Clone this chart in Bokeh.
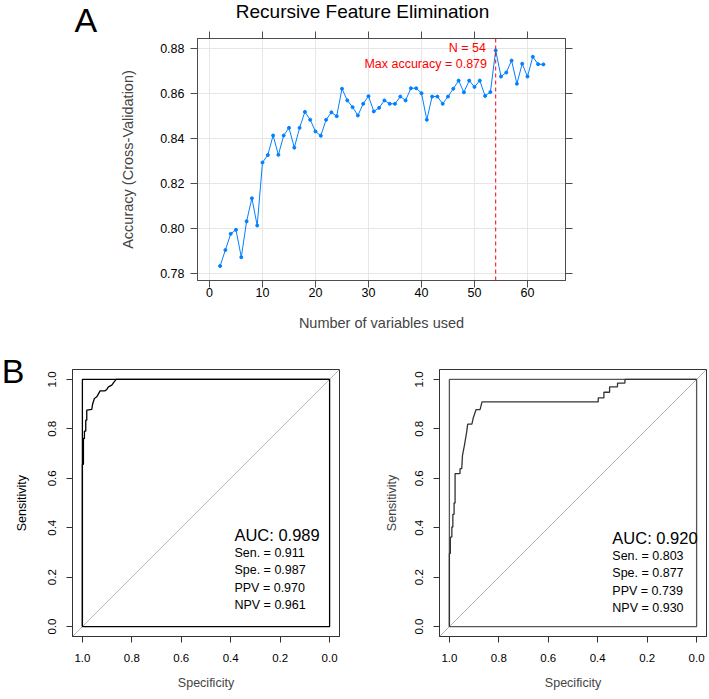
import numpy as np
from bokeh.plotting import figure
from bokeh.models import Range1d, FixedTicker, LinearAxis, Label, Span, NumeralTickFormatter
from bokeh.layouts import column, row
from bokeh.embed import file_html
from bokeh.resources import INLINE

FONT = "Liberation Sans"

# ---------------- data: panel A (RFE) ----------------
n_vars = list(range(2, 64))
accuracy = [
    0.7832, 0.7903, 0.7975, 0.7993, 0.7871, 0.8031, 0.8133, 0.8012, 0.8292, 0.8325,
    0.8412, 0.8326, 0.8412, 0.8446, 0.8358, 0.8446, 0.8517, 0.8482, 0.8430, 0.8411,
    0.8482, 0.8515, 0.8498, 0.8620, 0.8568, 0.8538, 0.8501, 0.8553, 0.8587, 0.8519,
    0.8535, 0.8568, 0.8553, 0.8553, 0.8585, 0.8568, 0.8622, 0.8622, 0.8600, 0.8482,
    0.8585, 0.8585, 0.8553, 0.8585, 0.8620, 0.8656, 0.8604, 0.8656, 0.8628, 0.8656,
    0.8588, 0.8605, 0.8790, 0.8674, 0.8692, 0.8745, 0.8642, 0.8731, 0.8674, 0.8762,
    0.8729, 0.8728,
]
a_x_ticks = [0, 10, 20, 30, 40, 50, 60]
a_y_ticks = [0.78, 0.80, 0.82, 0.84, 0.86, 0.88]

# ---------------- data: panel B (ROC) ----------------
roc1_spec = [1.0, 1.0, 0.9958, 0.9958, 0.9918, 0.9918, 0.9864, 0.9864, 0.9823, 0.9823,
             0.9621, 0.9580, 0.9513, 0.9418, 0.9283, 0.9081, 0.9013, 0.8946, 0.8811,
             0.8744, 0.8636, 0.0]
roc1_sens = [0.0, 0.6567, 0.6567, 0.7608, 0.7608, 0.7904, 0.7904, 0.8350, 0.8350, 0.8756,
             0.8783, 0.9026, 0.9229, 0.9295, 0.9538, 0.9538, 0.9594, 0.9700, 0.9769,
             0.9862, 1.0, 1.0]
roc2_spec = [1.0, 1.0, 0.996, 0.996, 0.990, 0.990, 0.986, 0.986, 0.981, 0.981, 0.977,
             0.977, 0.957, 0.957, 0.950, 0.947, 0.939, 0.930, 0.926, 0.909, 0.903, 0.892,
             0.876, 0.868, 0.398, 0.398, 0.375, 0.375, 0.352, 0.352, 0.320, 0.320, 0.290,
             0.290, 0.0]
roc2_sens = [0.0, 0.296, 0.296, 0.362, 0.362, 0.403, 0.403, 0.454, 0.454, 0.500, 0.500,
             0.619, 0.619, 0.639, 0.639, 0.693, 0.734, 0.788, 0.819, 0.819, 0.846, 0.878,
             0.878, 0.909, 0.909, 0.925, 0.925, 0.948, 0.948, 0.970, 0.970, 0.985, 0.985,
             1.0, 1.0]
auc_vals = [0.989, 0.920]
sen_vals = [0.911, 0.803]
spe_vals = [0.987, 0.877]
ppv_vals = [0.970, 0.739]
npv_vals = [0.961, 0.930]
roc_ticks = [0.0, 0.2, 0.4, 0.6, 0.8, 1.0]

# ---------------- layout constants (page pixels) ----------------
PAGE_W, PAGE_H = 709, 699
HT = 345            # height of the top block (panel A)
HB = PAGE_H - HT    # height of the bottom block (panel B)
AXC = "#4d4d4d"


def blank(width, height, x0, y0):
    """Figure without axes holding free text; data coords = page x, -page y."""
    f = figure(width=width, height=height, output_backend="svg", toolbar_location=None,
               title=None, x_axis_type=None, y_axis_type=None,
               x_range=Range1d(x0, x0 + width), y_range=Range1d(-(y0 + height), -y0),
               min_border=0, min_border_left=0, min_border_right=0,
               min_border_top=0, min_border_bottom=0)
    f.outline_line_color = None
    return f


def page_label(f, x, y, text, size, **kw):
    f.add_layout(Label(x=x, y=-y, text=text, text_font=FONT, text_font_size=size,
                       text_color="black", text_baseline="middle", **kw))


# ---------------- panel A ----------------
WA = 110
figA = blank(WA, HT, 0, 0)
page_label(figA, 85.3, 19.2, "A", "34px", text_align="center")

W1 = PAGE_W - WA
HTT = 22
figT = blank(W1, HTT, WA, 0)
page_label(figT, 362, 11, "Recursive Feature Elimination", "19px", text_align="center")

H1 = HT - HTT
FL, FR, FT, FB = 87, 455, 16, 258
p1 = figure(width=W1, height=H1, output_backend="svg", toolbar_location=None, title=None,
            x_range=Range1d(-2.264, 67.17), y_range=Range1d(0.776756, 0.884311),
            min_border_left=FL, min_border_right=W1 - FR, min_border_top=FT,
            min_border_bottom=H1 - FB)
p1.outline_line_color = AXC
bottom_ax = p1.below[0]
left_ax = p1.left[0]
top_ax = LinearAxis(major_label_text_color=None, major_label_text_font_size="0px",
                    major_label_standoff=0)
right_ax = LinearAxis(major_label_text_color=None, major_label_text_font_size="0px",
                      major_label_standoff=0)
p1.add_layout(top_ax, "above")
p1.add_layout(right_ax, "right")
for ax in [bottom_ax, top_ax]:
    ax.ticker = FixedTicker(ticks=a_x_ticks)
for ax in [left_ax, right_ax]:
    ax.ticker = FixedTicker(ticks=a_y_ticks)
for ax in [bottom_ax, top_ax, left_ax, right_ax]:
    ax.axis_line_color = AXC
    ax.major_tick_line_color = AXC
    ax.minor_tick_line_color = None
    ax.major_tick_out = 7
    ax.major_tick_in = 0
    ax.axis_label_text_font = FONT
    ax.axis_label_text_font_size = "14.5px"
    ax.axis_label_text_font_style = "normal"
for ax in [bottom_ax, left_ax]:
    ax.major_label_text_font = FONT
    ax.major_label_text_font_size = "12.5px"
    ax.major_label_text_color = "black"
left_ax.formatter = NumeralTickFormatter(format="0.00")
left_ax.major_label_standoff = 6
left_ax.axis_label = "Accuracy (Cross-Validation)"
left_ax.axis_label_standoff = 21
bottom_ax.major_label_standoff = 0
bottom_ax.axis_label = "Number of variables used"
bottom_ax.axis_label_standoff = 15
p1.xgrid.ticker = FixedTicker(ticks=a_x_ticks)
p1.ygrid.ticker = FixedTicker(ticks=a_y_ticks)
p1.xgrid.grid_line_color = "#e6e6e6"
p1.ygrid.grid_line_color = "#e6e6e6"

p1.line(n_vars, accuracy, line_color="#0080ff", line_width=1)
p1.scatter(n_vars, accuracy, size=3, color="#0080ff")

best_i = int(np.argmax(accuracy))
best_n = n_vars[best_i]
best_acc = accuracy[best_i]
p1.add_layout(Span(location=best_n, dimension="height", line_color="#ff0000",
                   line_dash="4 3", line_width=1))
p1.add_layout(Label(x=52.17, y=0.8799, text=f"N = {best_n}", text_color="#ff0000",
                    text_align="right", text_baseline="middle", text_font=FONT,
                    text_font_size="12.5px"))
p1.add_layout(Label(x=52.36, y=0.87276, text=f"Max accuracy = {best_acc:.3f}",
                    text_color="#ff0000", text_align="right", text_baseline="middle",
                    text_font=FONT, text_font_size="12.5px"))

# wrap the text-only figures so that Bokeh does not align their frames with p1's
top_block = row(column(figA), column(row(figT), p1))


# ---------------- panel B ----------------
def make_roc(spec, sens, k, width, fl, fr, curve_col, box_col, tx, ty, ylabel):
    ft, fb = 24, 291
    p = figure(width=width, height=HB, output_backend="svg", toolbar_location=None,
               title=None, x_range=Range1d(1.04, -0.04), y_range=Range1d(-0.04, 1.04),
               min_border_left=fl, min_border_right=width - fr, min_border_top=ft,
               min_border_bottom=HB - fb)
    p.outline_line_color = "#333333"
    p.xgrid.grid_line_color = None
    p.ygrid.grid_line_color = None
    p.xaxis.ticker = FixedTicker(ticks=roc_ticks)
    p.yaxis.ticker = FixedTicker(ticks=roc_ticks)
    for ax in p.axis:
        ax.formatter = NumeralTickFormatter(format="0.0")
        ax.axis_line_color = "#333333"
        ax.major_tick_line_color = "#333333"
        ax.minor_tick_line_color = None
        ax.major_tick_out = 6
        ax.major_tick_in = 0
        ax.major_label_text_font = FONT
        ax.major_label_text_font_size = "11.5px"
        ax.major_label_text_color = "black"
        ax.axis_label_text_font = FONT
        ax.axis_label_text_font_size = "12.5px"
        ax.axis_label_text_font_style = "normal"
    p.yaxis.major_label_orientation = "vertical"
    p.yaxis.major_label_standoff = 10
    if ylabel:
        p.yaxis.axis_label = "Sensitivity"
        p.yaxis.axis_label_standoff = 14
    p.xaxis.major_label_standoff = 11
    p.xaxis.axis_label = "Specificity"
    p.xaxis.axis_label_standoff = 11
    # chance diagonal across the full plotting region
    lo, hi = p.y_range.start, p.y_range.end
    p.line([1 - lo, 1 - hi], [lo, hi], line_color="#b3b3b3", line_width=1)
    # max-AUC box
    p.quad(left=[1.0], right=[0.0], bottom=[0.0], top=[1.0], fill_color=None,
           line_color=box_col, line_width=1.3)
    p.line(spec, sens, line_color=curve_col, line_width=1.3)
    p.add_layout(Label(x=tx, y=ty, text=f"AUC: {auc_vals[k]:.3f}", text_align="left",
                       text_baseline="middle", text_font=FONT, text_font_size="16.5px",
                       text_color="black"))
    lines = [f"Sen. = {sen_vals[k]:.3f}", f"Spe. = {spe_vals[k]:.3f}",
             f"PPV = {ppv_vals[k]:.3f}", f"NPV = {npv_vals[k]:.3f}"]
    for j, t in enumerate(lines):
        p.add_layout(Label(x=tx, y=ty - 0.07 - 0.071 * j, text=t, text_align="left",
                           text_baseline="middle", text_font=FONT,
                           text_font_size="12.5px", text_color="black"))
    return p


WB = 38
figB = blank(WB, HB, 0, HT)
page_label(figB, 12.5, 370.5, "B", "34px", text_align="center")
page_label(figB, 21, 502.7, "Sensitivity", "12.5px", text_align="center",
           angle=np.pi / 2)

W2 = 380 - WB
p2 = make_roc(roc1_spec, roc1_sens, 0, W2, 34, 301, "black", "black", 0.385, 0.369,
              ylabel=False)
W3 = PAGE_W - 380
p3 = make_roc(roc2_spec, roc2_sens, 1, W3, 59, 326, "#333333", "#555555", 0.341, 0.357,
              ylabel=True)

bottom_block = row(column(figB), p2, p3)
layout = column(top_block, bottom_block)
open("out.html", "w").write(file_html(layout, INLINE))
